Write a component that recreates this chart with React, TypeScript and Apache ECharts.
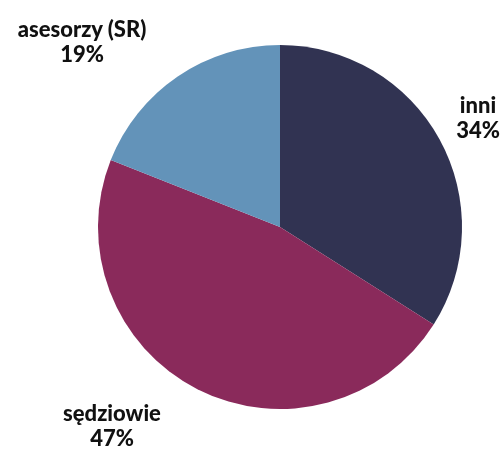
import React, { useEffect, useRef } from "react";
import * as echarts from "echarts";

const categories = ["inni", "sędziowie", "asesorzy (SR)"];
const values = [34, 47, 19];
const colors = ["#313352", "#8a2a5b", "#6393b9"];
const labelPos = [
  [478, 117],
  [112, 425],
  [82, 41],
];

export default function App() {
  const ref = useRef<HTMLDivElement>(null);
  useEffect(() => {
    const chart = echarts.init(ref.current!, null, { renderer: "svg" });
    chart.setOption({
      animation: false,
      series: [
        {
          type: "pie",
          center: [280, 227],
          radius: 182,
          startAngle: 90,
          clockwise: true,
          data: categories.map((c, i) => ({
            name: c,
            value: values[i],
            itemStyle: { color: colors[i] },
          })),
          label: {
            show: true,
            position: "inside",
            formatter: "{b}\n{c}%",
            fontFamily: "Lato",
            fontWeight: 900,
            fontSize: 22,
            lineHeight: 25,
            color: "#111",
            align: "center",
            overflow: "none",
          },
          labelLine: { show: false },
          labelLayout: (p: any) => ({
            x: labelPos[p.dataIndex][0],
            y: labelPos[p.dataIndex][1],
            align: "center",
            verticalAlign: "middle",
          }),
          emphasis: { disabled: true },
        },
      ],
    });
    return () => chart.dispose();
  }, []);
  return (
    <div
      ref={ref}
      style={{ position: "fixed", left: 0, top: 0, width: 502, height: 450 }}
    />
  );
}
